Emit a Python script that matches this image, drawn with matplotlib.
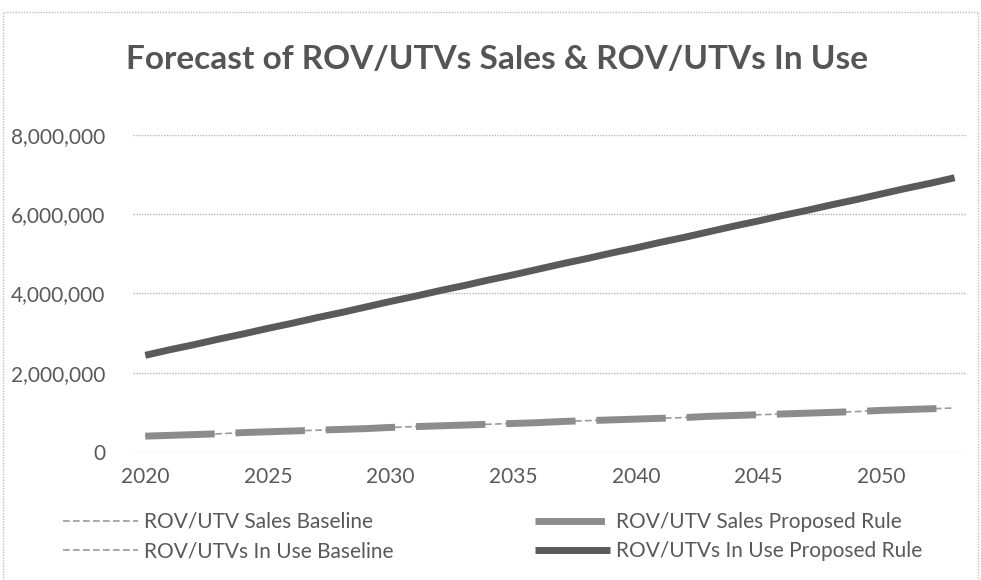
import matplotlib
matplotlib.use("Agg")
import matplotlib.pyplot as plt
import matplotlib.patches as mpatches
from matplotlib.ticker import FuncFormatter

# ── data ──────────────────────────────────────────────────────
years = list(range(2020, 2054))

sales_baseline = [400_000, 420_000, 440_000, 460_000, 490_000, 510_000, 530_000,
                  550_000, 570_000, 590_000, 620_000, 640_000, 660_000, 680_000,
                  700_000, 720_000, 740_000, 770_000, 790_000, 810_000, 830_000,
                  850_000, 870_000, 900_000, 920_000, 940_000, 960_000, 980_000,
                  1_000_000, 1_020_000, 1_050_000, 1_070_000, 1_090_000, 1_110_000]
sales_proposed = list(sales_baseline)

in_use_baseline = [2_440_000, 2_580_000, 2_710_000, 2_850_000, 2_980_000, 3_120_000,
                   3_250_000, 3_390_000, 3_520_000, 3_660_000, 3_800_000, 3_930_000,
                   4_070_000, 4_200_000, 4_340_000, 4_470_000, 4_610_000, 4_750_000,
                   4_880_000, 5_020_000, 5_150_000, 5_290_000, 5_420_000, 5_560_000,
                   5_700_000, 5_830_000, 5_970_000, 6_100_000, 6_240_000, 6_370_000,
                   6_510_000, 6_650_000, 6_780_000, 6_920_000]
in_use_proposed = list(in_use_baseline)

x_ticks = [2020, 2025, 2030, 2035, 2040, 2045, 2050]
y_ticks = [0, 2_000_000, 4_000_000, 6_000_000, 8_000_000]

TITLE = "Forecast of ROV/UTVs Sales & ROV/UTVs In Use"
TEXT_C = "#595959"

plt.rcParams["font.family"] = ["Lato", "DejaVu Sans"]

fig = plt.figure(figsize=(9.81, 5.8), dpi=100)
ax = fig.add_axes([0.1356, 0.2207, 0.85, 0.5466])

# baselines (thin dashed) underneath
ax.plot(years, sales_baseline, color="#9a9a9a", lw=1.2, ls=(0, (4, 2)),
        label="ROV/UTV Sales Baseline", zorder=2)
ax.plot(years, in_use_baseline, color="#9a9a9a", lw=1.2, ls=(0, (4, 2)),
        label="ROV/UTVs In Use Baseline", zorder=2)
# proposed rule (thick)
ax.plot(years, sales_proposed, color="#8c8c8c", lw=5, ls=(0, (10, 3)),
        label="ROV/UTV Sales Proposed Rule", zorder=3)
ax.plot(years, in_use_proposed, color="#5a5a5a", lw=5,
        label="ROV/UTVs In Use Proposed Rule", zorder=3, solid_capstyle="butt")

ax.set_xlim(2019.5, 2053.5)
ax.set_ylim(0, 8_000_000)
ax.set_xticks(x_ticks)
ax.set_yticks(y_ticks)
ax.yaxis.set_major_formatter(FuncFormatter(lambda v, _: f"{int(v):,}"))
ax.tick_params(length=0, labelsize=15, labelcolor=TEXT_C)
ax.tick_params(axis="x", pad=11)
ax.tick_params(axis="y", pad=20)
ax.grid(axis="y", color="#b5b5b5", lw=1.0, ls=(0, (1, 1)))
ax.set_axisbelow(True)
for s in ax.spines.values():
    s.set_visible(False)

fig.text(0.507, 0.897, TITLE, ha="center", va="center",
         fontsize=24, fontweight="bold", color="#555555")

# legend: columns are Baseline / Proposed Rule
handles, labels = ax.get_legend_handles_labels()
fig.legend(handles, labels, ncol=2, loc="center", bbox_to_anchor=(0.502, 0.075),
           frameon=False, fontsize=15, labelcolor=TEXT_C, handlelength=3.6,
           columnspacing=6.8, handletextpad=0.3, labelspacing=0.45)

# chart-area border
fig.patches.append(mpatches.Rectangle((0.003, -0.02), 0.994, 1.0, transform=fig.transFigure,
                                      fill=False, edgecolor="#bdbdbd", lw=1.0,
                                      ls=(0, (1, 1))))

fig.savefig("out.png", dpi=100)
